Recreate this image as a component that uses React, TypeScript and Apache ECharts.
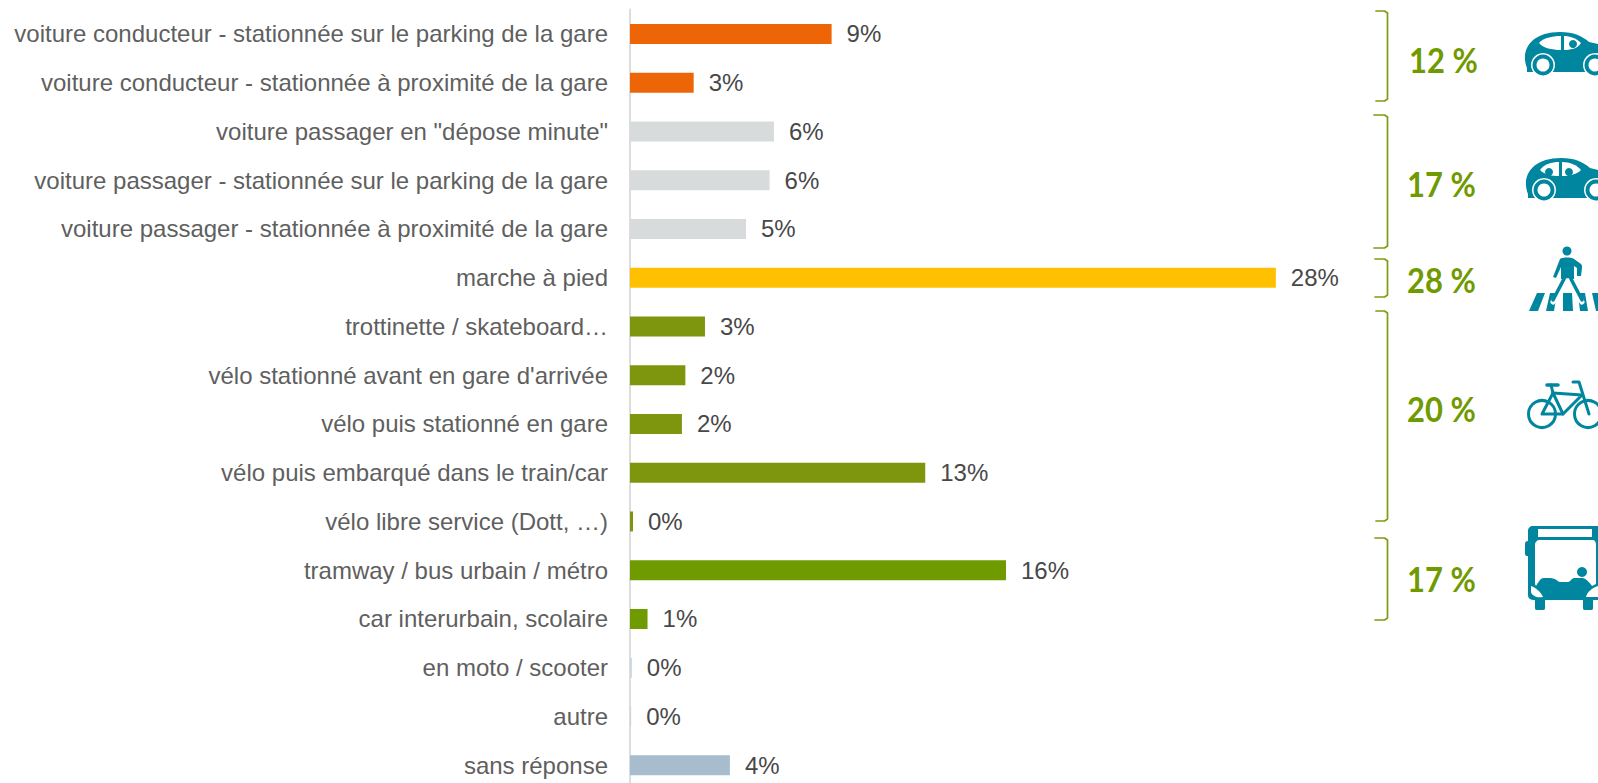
import React, { useEffect, useRef } from "react";
import * as echarts from "echarts";

const categories = [
  "voiture conducteur - stationnée sur le parking de la gare",
  "voiture conducteur - stationnée à proximité de la gare",
  'voiture passager en "dépose minute"',
  "voiture passager - stationnée sur le parking de la gare",
  "voiture passager - stationnée à proximité de la gare",
  "marche à pied",
  "trottinette / skateboard…",
  "vélo stationné avant en gare d'arrivée",
  "vélo puis stationné en gare",
  "vélo puis embarqué dans le train/car",
  "vélo libre service (Dott, …)",
  "tramway / bus urbain / métro",
  "car interurbain, scolaire",
  "en moto / scooter",
  "autre",
  "sans réponse",
];
const values = [8.74, 2.76, 6.24, 6.05, 5.03, 28, 3.25, 2.4, 2.25, 12.8, 0.13, 16.3, 0.76, 0.08, 0.05, 4.33];
const valueLabels = ["9%", "3%", "6%", "6%", "5%", "28%", "3%", "2%", "2%", "13%", "0%", "16%", "1%", "0%", "0%", "4%"];
const barColors = [
  "#ee6508", "#ee6508", "#d8dbdb", "#d8dbdb", "#d8dbdb", "#ffc000", "#7d960d", "#7d960d",
  "#7d960d", "#7d960d", "#7d960d", "#6f9a00", "#6f9a00", "#c9d6e0", "#c9d6e0", "#a7bccd",
];
const groupLabels = ["12 %", "17 %", "28 %", "20 %", "17 %"];

const TEAL = "#00869e";
const GREEN = "#6f9a00";
const BRACKET = "#7d9c14";

const CAR = "M1527 68 C1520 50 1531 32 1560 32 C1574 32 1582 36 1589 42 L1598 44 L1598 72 L1527 72 Z";
const CAR2 = "M1528 194 C1521 176 1532 158 1561 158 C1575 158 1583 162 1590 168 L1598 170 L1598 198 L1528 198 Z";
const WIN_A = "M1539 43 C1543 38 1552 36 1561 36 L1561 50 C1552 50 1543 48 1539 43 Z";
const WIN_B = "M1564 36 C1570 36 1576 38 1581 43 C1578 48 1572 50 1564 50 Z";
const WIN_C = "M1540 170 C1544 164 1552 162 1559 162 L1559 176 C1551 176 1544 174 1540 170 Z";
const WIN_D = "M1562 162 C1570 162 1577 165 1581 170 C1577 174 1570 176 1562 176 Z";
const WALKER = "M1560 259 C1562 257 1572 257 1574 259 L1581 264 C1582 265 1582 266 1582 268 L1581 276 L1577 276 L1577 268 L1574 266 L1574 279 L1561 279 L1561 267 L1556 278 L1553 277 Z";
const STRIPES = "M1537 293 L1545 293 L1538 311 L1529 311 Z M1550 293 L1557 293 L1554 311 L1546 311 Z M1563 293 L1572 293 L1573 311 L1563 311 Z M1578 293 L1585 293 L1588 311 L1580 311 Z M1592 293 L1598 293 L1598 311 L1596 311 Z";
const BUS_BODY = "M1533 526 L1598 526 L1598 600 L1593 600 L1593 608 C1593 610 1592 610 1590 610 L1586 610 C1584 610 1583 610 1583 608 L1583 600 L1545 600 L1545 608 C1545 610 1544 610 1542 610 L1538 610 C1536 610 1535 610 1535 608 L1535 600 C1530 600 1528 598 1528 595 L1528 556 L1527 556 C1526 556 1525 555 1525 554 L1525 544 C1525 542 1526 541 1528 541 L1528 531 C1528 528 1530 526 1533 526 Z";
const BUS_GLASS = "M1540 540 L1592 540 C1595 540 1596 542 1596 545 L1596 584 L1592 586 C1590 583 1586 578 1582 578 L1574 578 C1572 578 1570 582 1568 582 L1560 582 C1558 582 1556 578 1550 578 L1544 578 C1540 578 1538 583 1536 586 L1535 584 L1535 545 C1535 542 1537 540 1540 540 Z";
const BUS_LAMP_L = "M1531 586 C1536 588 1541 592 1543 597 C1537 598 1532 596 1531 592 Z";
const BUS_LAMP_R = "M1598 586 C1592 588 1587 592 1586 597 L1598 597 Z";

const shapes: Record<string, string> = {
  car: CAR, car2: CAR2, winA: WIN_A, winB: WIN_B, winC: WIN_C, winD: WIN_D,
  walker: WALKER, stripes: STRIPES, busBody: BUS_BODY, busGlass: BUS_GLASS,
  lampL: BUS_LAMP_L, lampR: BUS_LAMP_R,
};
Object.keys(shapes).forEach((k) => {
  echarts.graphic.registerShape(k, echarts.graphic.extendPath(shapes[k], {}) as any);
});

const p = (type: string, fill: string) => ({ type, x: 0, y: 0, silent: true, style: { fill } });
const c = (cx: number, cy: number, r: number, fill: string) => ({
  type: "circle", silent: true, shape: { cx, cy, r }, style: { fill },
});
const ln = (points: number[][], stroke: string, lineWidth: number) => ({
  type: "polyline", silent: true, shape: { points }, style: { stroke, lineWidth, fill: "none", lineCap: "round", lineJoin: "round" },
});
const wheel = (cx: number, cy: number) => [c(cx, cy, 12, "#ffffff"), c(cx, cy, 10.5, TEAL), c(cx, cy, 6.5, "#ffffff")];
const bracket = (x0: number, y0: number, y1: number) => {
  const x1 = 1387.5;
  return ln([[x0, y0], [x1 - 3, y0], [x1, y0 + 2], [x1, y1 - 2], [x1 - 3, y1], [x0, y1]], BRACKET, 1.7);
};
// y is the top of the text box; baseline sits about 30px below it
const groupText = (text: string, x: number, baseline: number) => ({
  type: "text", silent: true, x, y: baseline - 30, scaleX: 0.91,
  style: { text, fill: GREEN, font: "bold 34px Lato" },
});

const graphics: any[] = [
  bracket(1376, 11, 101), bracket(1374, 115, 248), bracket(1375, 259, 297), bracket(1376, 311, 521), bracket(1375, 538, 620),
  groupText(groupLabels[0], 1409, 73), groupText(groupLabels[1], 1407, 197), groupText(groupLabels[2], 1407, 293),
  groupText(groupLabels[3], 1407, 422), groupText(groupLabels[4], 1407, 592),
  // first car
  p("car", TEAL), ...wheel(1543, 65), ...wheel(1595, 65), p("winA", "#ffffff"), p("winB", "#ffffff"), c(1573, 44, 4, TEAL),
  // second car
  p("car2", TEAL), ...wheel(1544, 190), ...wheel(1596, 190), p("winC", "#ffffff"), p("winD", "#ffffff"), c(1549, 172, 4, TEAL), c(1569, 172, 4, TEAL),
  // pedestrian
  p("stripes", TEAL), c(1567, 251, 4.5, TEAL), p("walker", TEAL),
  ln([[1567, 281], [1553, 302]], "#ffffff", 5), ln([[1568, 281], [1582, 302]], "#ffffff", 5),
  ln([[1564, 279], [1553, 300]], TEAL, 3.5), ln([[1571, 279], [1582, 300]], TEAL, 3.5),
  // bicycle
  { type: "circle", silent: true, shape: { cx: 1542, cy: 414, r: 13.5 }, style: { fill: "none", stroke: TEAL, lineWidth: 3 } },
  { type: "circle", silent: true, shape: { cx: 1588, cy: 414, r: 13.5 }, style: { fill: "none", stroke: TEAL, lineWidth: 3 } },
  ln([[1542, 414], [1553, 393], [1563, 414], [1542, 414]], TEAL, 3),
  ln([[1553, 393], [1582, 395], [1563, 414]], TEAL, 3),
  ln([[1553, 393], [1551, 385]], TEAL, 3),
  ln([[1547, 385], [1558, 385]], TEAL, 3.5),
  ln([[1573, 382], [1579, 382], [1589, 414]], TEAL, 3),
  // bus
  p("busBody", TEAL),
  { type: "rect", silent: true, shape: { x: 1538, y: 529, width: 54, height: 8 }, style: { fill: "#ffffff" } },
  p("busGlass", "#ffffff"), p("lampL", "#ffffff"), p("lampR", "#ffffff"), c(1582, 572, 5, TEAL),
  // footer cut by the page edge
  {
    type: "text", silent: true, x: 980, y: 779,
    style: { text: "Page 18", fill: "#2a3a80", font: "32px 'Liberation Sans'" },
  },
];

export default function App() {
  const ref = useRef<HTMLDivElement>(null);
  useEffect(() => {
    document.body.style.margin = "0";
    document.body.style.overflow = "hidden";
    const chart = echarts.init(ref.current!, undefined, { renderer: "svg" });
    chart.setOption({
      animation: false,
      backgroundColor: "#ffffff",
      grid: { left: 630, top: 9.6, width: 692, height: 780, containLabel: false },
      xAxis: { type: "value", min: 0, max: 30, show: false },
      yAxis: {
        type: "category",
        inverse: true,
        data: categories,
        axisTick: { show: false },
        axisLine: { show: true, lineStyle: { color: "#dddddd", width: 2 } },
        axisLabel: { color: "#5f5f5f", fontSize: 24, fontFamily: "'Liberation Sans', Arial, sans-serif", margin: 22 },
      },
      series: [
        {
          type: "bar",
          barWidth: 20,
          data: values.map((value, i) => ({ value, itemStyle: { color: barColors[i] } })),
          label: {
            show: true,
            position: "right",
            distance: 15,
            color: "#484848",
            fontSize: 24,
            fontFamily: "'Liberation Sans', Arial, sans-serif",
            formatter: (params: any) => valueLabels[params.dataIndex],
          },
        },
      ],
      graphic: { elements: graphics },
    });
    return () => chart.dispose();
  }, []);
  return (
    <div style={{ position: "absolute", left: 0, top: 0, width: 1598, height: 783, overflow: "hidden" }}>
      <div ref={ref} style={{ width: 1598, height: 830 }} />
    </div>
  );
}
